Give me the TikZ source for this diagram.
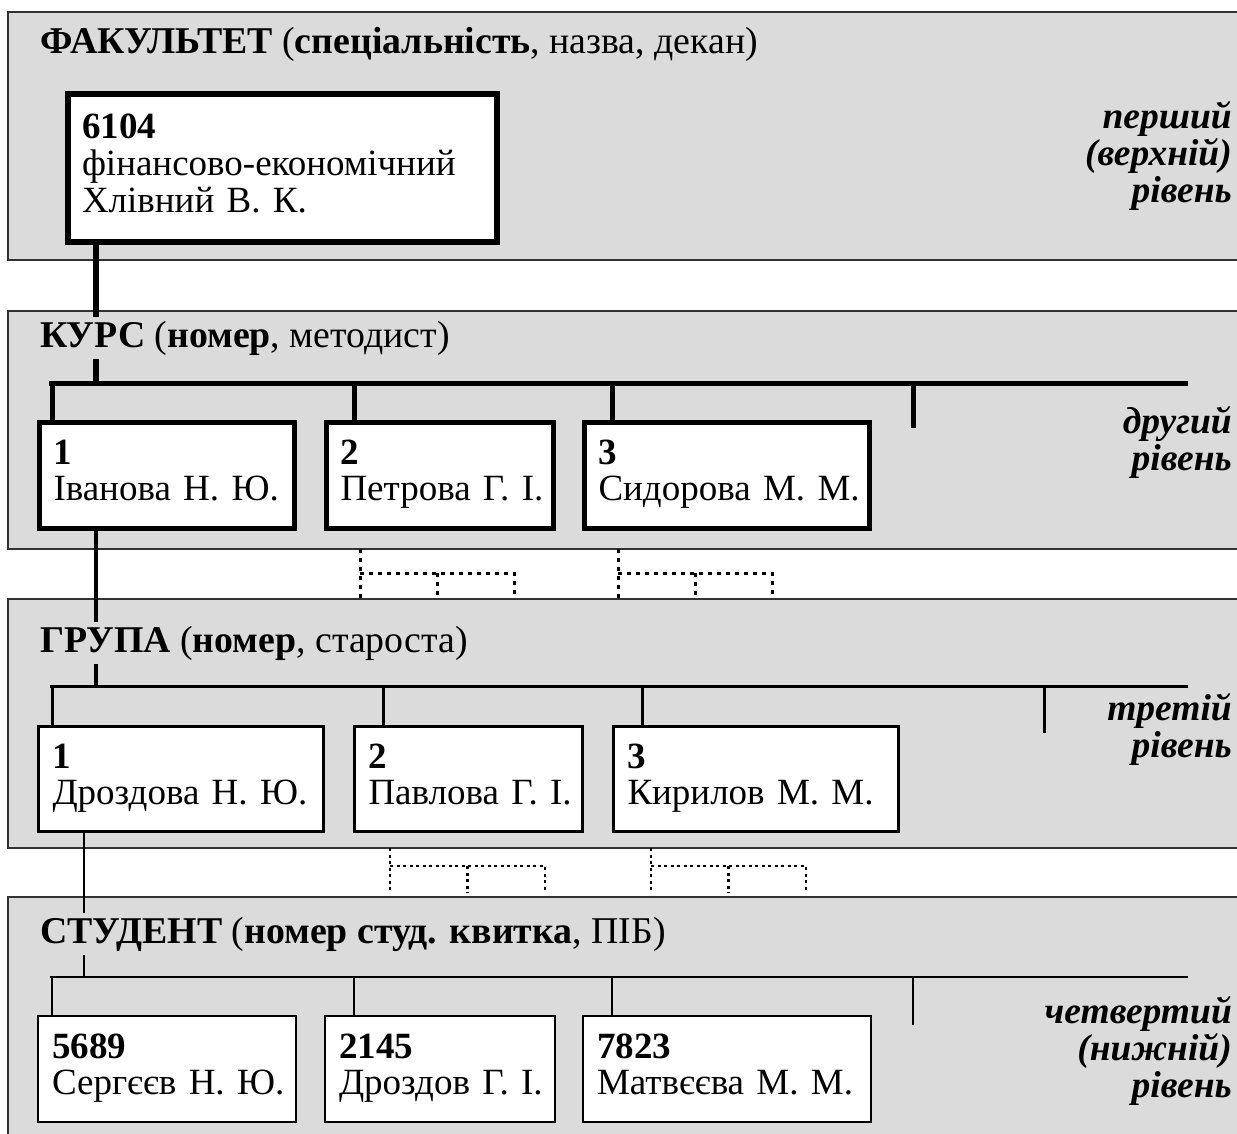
\documentclass[tikz,border=0pt]{standalone}
\usepackage{fontspec}
\setmainfont{Liberation Serif}
\usetikzlibrary{calc}
\definecolor{bandgray}{gray}{0.86}
\definecolor{bandline}{gray}{0.2}
\tikzset{
  band/.style = {fill=bandgray, draw=bandline, line width=2pt},
  boxnode/.style = {draw=black, fill=white, align=left, inner xsep=14pt, inner ysep=0pt,
    font=\fontsize{37}{36}\selectfont, execute at begin node=\noindent\strut, execute at end node=\strut},
  fac_n/.style = {boxnode, line width=6pt, text width=401pt, minimum height=148pt, font=\fontsize{37}{37}\selectfont},
  kurs_n/.style = {boxnode, line width=5pt, text width=#1, minimum height=106pt},
  grup_n/.style = {boxnode, line width=3pt, text width=#1, minimum height=105pt},
  stud_n/.style = {boxnode, line width=2pt, text width=#1, minimum height=106pt},
  title_n/.style = {anchor=base west, fill=bandgray, inner sep=4pt, font=\fontsize{37.8}{36}\selectfont},
  level_n/.style = {anchor=base east, align=right, inner sep=0pt, font=\fontsize{37.5}{37}\selectfont\bfseries\itshape},
  dotA/.style = {line width=3pt, dash pattern=on 4pt off 5pt},
  dotB/.style = {line width=2.5pt, dash pattern=on 3pt off 3.5pt}
}
\begin{document}
\begin{tikzpicture}[x=1pt,y=-1pt]
\useasboundingbox (0,0) rectangle (1237,1133);
\clip (0,0) rectangle (1237,1133);
% levels
\draw[band] (8,12) rectangle (1260,260);
\draw[band] (8,311) rectangle (1260,549);
\draw[band] (8,599) rectangle (1260,848);
\draw[band] (8,897) rectangle (1260,1150);

% boxes
\node[fac_n] (fac) at (282.5,168) {\textbf{6104}\\фінансово-економічний\\Хлівний~В.~К.};
\node[kurs_n=227pt] (kurs1) at (167,475.5) {\textbf{1}\\Іванова~Н.~Ю.};
\node[kurs_n=199pt] (kurs2) at (440,475.5) {\textbf{2}\\Петрова~Г.~І.};
\node[kurs_n=257pt] (kurs3) at (727,475.5) {\textbf{3}\\Сидорова~М.~М.};
\node[grup_n=257pt] (grup1) at (181,779) {\textbf{1}\\Дроздова~Н.~Ю.};
\node[grup_n=200pt] (grup2) at (468.5,779) {\textbf{2}\\Павлова~Г.~І.};
\node[grup_n=257pt] (grup3) at (756,779) {\textbf{3}\\Кирилов~М.~М.};
\node[stud_n=230pt] (stud1) at (167,1069) {\textbf{5689}\\Сергєєв~Н.~Ю.};
\node[stud_n=202pt] (stud2) at (440,1069) {\textbf{2145}\\Дроздов~Г.~І.};
\node[stud_n=260pt] (stud3) at (727,1069) {\textbf{7823}\\Матвєєва~М.~М.};

% buses
\coordinate (kin) at (96,383);
\coordinate (kbusL) at (49,383);
\coordinate (kbusR) at (1188,383);
\coordinate (kfree) at (913,428);
\coordinate (gin) at (96,686);
\coordinate (gbusL) at (50,686);
\coordinate (gbusR) at (1188,686);
\coordinate (gfree) at (1044,733);
\coordinate (sin) at (84,977);
\coordinate (sbusL) at (50,977);
\coordinate (sbusR) at (1188,977);
\coordinate (sfree) at (913,1025);

\draw[line width=6pt] (fac.south -| kin) -- (kin);
\draw[line width=5pt] (kbusL) -- (kbusR);
\foreach \b/\dx in {kurs1/15,kurs2/30,kurs3/30}
  \draw[line width=5pt] ([xshift=\dx]\b.north west) -- ([xshift=\dx]\b.north west |- kbusL);
\draw[line width=5pt] (kfree |- kbusL) -- (kfree);

\draw[line width=4pt] (kurs1.south -| gin) -- (gin);
\draw[line width=3pt] (gbusL) -- (gbusR);
\foreach \b/\dx in {grup1/15,grup2/30,grup3/30}
  \draw[line width=3pt] ([xshift=\dx]\b.north west) -- ([xshift=\dx]\b.north west |- gbusL);
\draw[line width=3pt] (gfree |- gbusL) -- (gfree);

\draw[line width=2pt] (grup1.south -| sin) -- (sin);
\draw[line width=2pt] (sbusL) -- (sbusR);
\foreach \b/\dx in {stud1/15,stud2/30,stud3/30}
  \draw[line width=2pt] ([xshift=\dx]\b.north west) -- ([xshift=\dx]\b.north west |- sbusL);
\draw[line width=2pt] (sfree |- sbusL) -- (sfree);

% dotted links between levels
\foreach \x in {360,618}
  \draw[dotA] (\x,549) -- (\x,599) (\x,573) -- ++(154,0) -- ++(0,26) (\x+77,573) -- ++(0,26);
\foreach \x in {390,651}
  \draw[dotB] (\x,848) -- (\x,893) (\x,866) -- ++(155,0) -- ++(0,27) (\x+77.5,866) -- ++(0,27);

% titles
\node[title_n] (t_fac) at (36,53) {\textbf{ФАКУЛЬТЕТ} (\textbf{спеціальність}, назва, декан)};
\node[title_n] (t_kurs) at (36,347) {\textbf{КУРС} (\textbf{номер}, методист)};
\node[title_n] (t_grup) at (36,652) {\textbf{ГРУПА} (\textbf{номер}, староста)};
\node[title_n] (t_stud) at (36,943) {\textbf{СТУДЕНТ} (\textbf{номер студ. квитка}, ПІБ)};

% levels labels
\node[level_n] (l_1) at (1232,202) {перший\\(верхній)\\рівень};
\node[level_n] (l_2) at (1232,470) {другий\\рівень};
\node[level_n] (l_3) at (1232,757) {третій\\рівень};
\node[level_n] (l_4) at (1232,1097) {четвертий\\(нижній)\\рівень};
\end{tikzpicture}
\end{document}
